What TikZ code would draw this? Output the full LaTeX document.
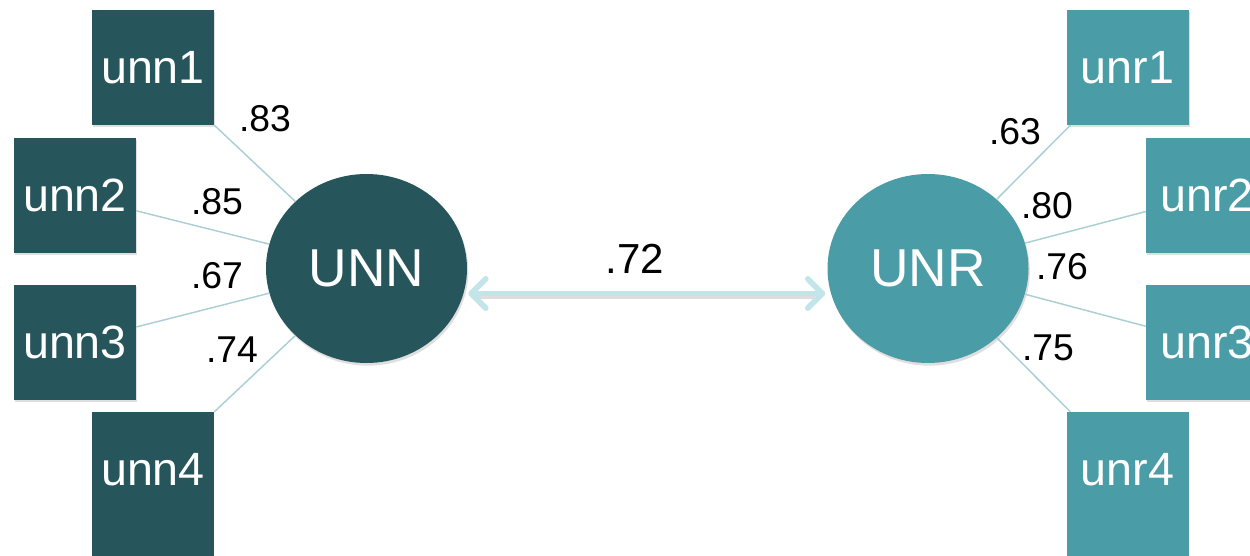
\documentclass[tikz,border=0pt]{standalone}
\usepackage{fontspec}
\setmainfont{Liberation Sans}
\usetikzlibrary{shapes.geometric,arrows.meta,calc,shadows}
\definecolor{darkteal}{RGB}{38,86,91}
\definecolor{lightteal}{RGB}{74,157,166}
\definecolor{linkc}{RGB}{170,208,213}
\definecolor{arrowc}{RGB}{194,229,233}
\tikzset{
  box/.style={rectangle, inner sep=0pt, minimum width=91.5pt, minimum height=86.25pt,
    text=white, font=\fontsize{35}{40}\selectfont},
  shade box/.style={drop shadow={opacity=0.25, shadow xshift=1pt, shadow yshift=-1.5pt}},
  latent/.style={ellipse, inner sep=0pt, minimum width=150.75pt, minimum height=141.75pt,
    text=white, font=\fontsize{40}{46}\selectfont,
    drop shadow={opacity=0.25, shadow xshift=1pt, shadow yshift=-2pt}},
  link/.style={draw=linkc, line width=1.1pt},
  lbl/.style={font=\fontsize{28}{32}\selectfont, text=black, inner sep=0pt},
  corr/.style={draw=arrowc, line width=4.2pt,
    {Straight Barb[length=11pt, width=22pt, round]}-{Straight Barb[length=11pt, width=22pt, round]}}
}
\begin{document}
\begin{tikzpicture}[x=0.75pt,y=-0.75pt]
\useasboundingbox (0,0) rectangle (1250,556);
\clip (0,0) rectangle (1250,556);
\fill[white] (0,0) rectangle (1250,556);
% latent variables
\node[latent, fill=darkteal] (UNN) at (366.5,268.5) {UNN};
\node[latent, fill=lightteal] (UNR) at (928,268.5) {UNR};
% bottom boxes continue past the lower edge
\fill[darkteal] (92,480) rectangle (214,600);
\fill[lightteal] (1066.5,480) rectangle (1188.5,600);
% indicators
\node[box, shade box, fill=darkteal] (unn1) at (153,67.5) {unn1};
\node[box, shade box, fill=darkteal] (unn2) at (75,195.5) {unn2};
\node[box, shade box, fill=darkteal] (unn3) at (75,342.5) {unn3};
\node[box, fill=darkteal] (unn4) at (153,469.5) {unn4};
\node[box, shade box, fill=lightteal] (unr1) at (1127.5,67.5) {unr1};
\node[box, shade box, fill=lightteal] (unr2) at (1207,195.5) {unr2};
\node[box, shade box, fill=lightteal] (unr3) at (1207,342.5) {unr3};
\node[box, fill=lightteal] (unr4) at (1127.5,469.5) {unr4};
% loadings
\draw[link] (UNN) -- (unn1);
\draw[link] (UNN) -- (unn2);
\draw[link] (UNN) -- (unn3);
\draw[link] (UNN) -- (unn4);
\draw[link] (UNR) -- (unr1);
\draw[link] (UNR) -- (unr2);
\draw[link] (UNR) -- (unr3);
\draw[link] (UNR) -- (unr4);
% labels
\node[lbl] (l1) at (265,119) {.83};
\node[lbl] (l2) at (217,202) {.85};
\node[lbl] (l3) at (217,276) {.67};
\node[lbl] (l4) at (232,350) {.74};
\node[lbl] (r1) at (1015,132) {.63};
\node[lbl] (r2) at (1047,206) {.80};
\node[lbl] (r3) at (1062,267) {.76};
\node[lbl] (r4) at (1048,348) {.75};
% correlation
\coordinate (a1) at ($(UNN.east)+(1,25)$);
\coordinate (a2) at ($(UNR.west)+(-2,25)$);
\path[draw=black!25, line width=4.2pt, opacity=0.5] ($(a1)+(10,3)$) -- ($(a2)+(-10,3)$);
\draw[corr] (a1) -- (a2);
\node[font=\fontsize{31.5}{36}\selectfont, inner sep=0pt] (r) at (635,259) {.72};
\end{tikzpicture}
\end{document}
